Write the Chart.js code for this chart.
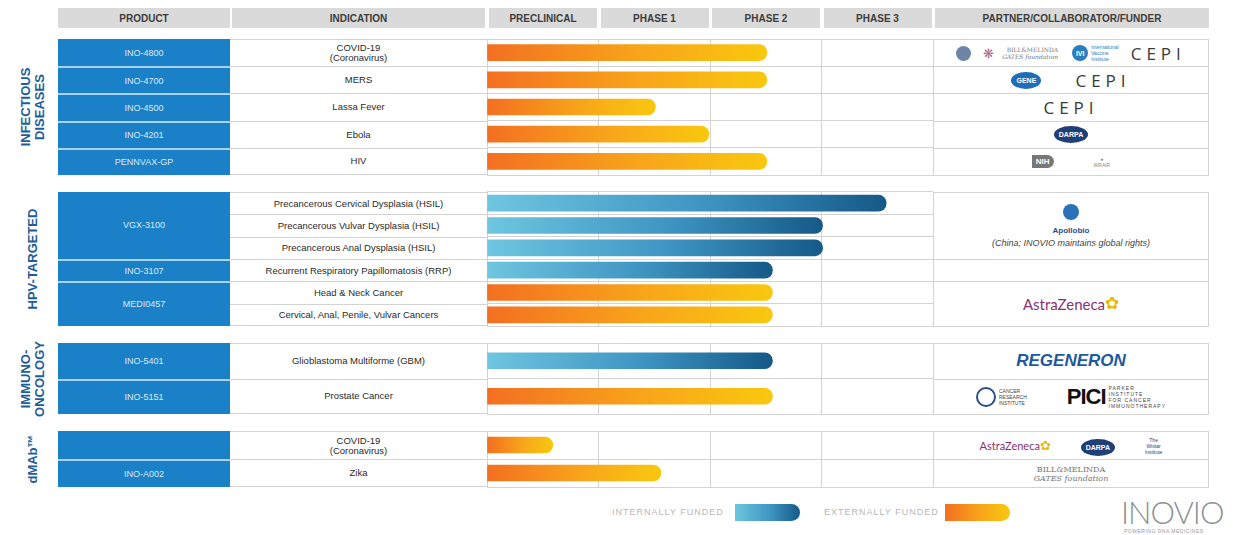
<!DOCTYPE html>
<html>
<head>
<meta charset="utf-8">
<script src="https://cdn.jsdelivr.net/npm/chart.js@4/dist/chart.umd.min.js"></script>
<style>
  body { margin: 0; background: #fff; font-family: "Liberation Sans", Arial, sans-serif; }
  #page { position: relative; width: 1233px; height: 535px; overflow: hidden; }
  .hd { position: absolute; top: 8px; height: 20px; background: #dadada; color: #3c3c3c;
        font-size: 10px; font-weight: bold; display: flex; align-items: center; justify-content: center; }
  .prod { position: absolute; left: 58px; width: 172px; background: #1a80c8; color: #dcebf7;
          font-size: 9px; display: flex; align-items: center; justify-content: center; box-sizing: border-box; }
  .prod.sep { border-top: 2px solid #a9d2ef; }
  .ind { position: absolute; left: 230px; width: 257px; color: #2a2a2a; font-size: 9.5px; line-height: 10px;
         display: flex; align-items: center; justify-content: center; text-align: center; box-sizing: border-box;
         border-top: 1px solid #d3d3d3; white-space: pre; }
  .ind.last { border-bottom: 1px solid #d3d3d3; }
  .part { position: absolute; left: 933px; width: 276px; box-sizing: border-box; border: 1px solid #d3d3d3;
          border-bottom: none; display: flex; align-items: center; justify-content: center; }
  .part.last { border-bottom: 1px solid #d3d3d3; }
  .sec { position: absolute; left: 33px; transform: translate(-50%, -50%) rotate(-90deg); color: #1c5e9a;
         font-size: 13px; font-weight: bold; line-height: 14px; white-space: pre; text-align: center; }
  canvas.bars { position: absolute; left: 480px; }
  .cepi { font-family: "Open Sans", sans-serif; font-size: 17px; letter-spacing: 5px; color: #3a3a3a; }
  .oval { display: inline-flex; align-items: center; justify-content: center; border-radius: 50%;
          color: #fff; font-weight: bold; font-size: 7px; }
  .tiny { font-size: 5px; color: #888; line-height: 6px; }
  .gates { font-family: "DejaVu Serif", serif; font-size: 6px; color: #777; line-height: 7px; text-align: right; }
  .az { font-family: "Lato", sans-serif; color: #8a2f78; }
  .azm { color: #e8b90c; }
  .lg { position: absolute; top: 507px; font-size: 9px; color: #b8b8b8; letter-spacing: 1px; }
  .lgbar { position: absolute; top: 504px; height: 17px; border-radius: 0 9px 9px 0; }
</style>
</head>
<body>
<div id="page"></div>
<script>
// ===== data =====
const phaseLabels = ['PRECLINICAL', 'PHASE 1', 'PHASE 2', 'PHASE 3'];

const infIndications = ['COVID-19\n(Coronavirus)', 'MERS', 'Lassa Fever', 'Ebola', 'HIV'];
const infProducts = ['INO-4800', 'INO-4700', 'INO-4500', 'INO-4201', 'PENNVAX-GP'];
const infProgress = [2.51, 2.51, 1.51, 1.99, 2.51];
const infFunding = ['ext', 'ext', 'ext', 'ext', 'ext'];
const infPartners = ['covid', 'mers', 'lassa', 'ebola', 'hiv'];

const hpvIndications = ['Precancerous Cervical Dysplasia (HSIL)', 'Precancerous Vulvar Dysplasia (HSIL)',
  'Precancerous Anal Dysplasia (HSIL)', 'Recurrent Respiratory Papillomatosis (RRP)',
  'Head & Neck Cancer', 'Cervical, Anal, Penile, Vulvar Cancers'];
const hpvProducts = ['VGX-3100', 'VGX-3100', 'VGX-3100', 'INO-3107', 'MEDI0457', 'MEDI0457'];
const hpvProgress = [3.58, 3.01, 3.01, 2.56, 2.56, 2.56];
const hpvFunding = ['int', 'int', 'int', 'int', 'ext', 'ext'];
const hpvPartners = ['apollo', 'apollo', 'apollo', 'none', 'az', 'az'];

const ioIndications = ['Glioblastoma Multiforme (GBM)', 'Prostate Cancer'];
const ioProducts = ['INO-5401', 'INO-5151'];
const ioProgress = [2.56, 2.56];
const ioFunding = ['int', 'ext'];
const ioPartners = ['regeneron', 'pici'];

const dmabIndications = ['COVID-19\n(Coronavirus)', 'Zika'];
const dmabProducts = ['', 'INO-A002'];
const dmabProgress = [0.59, 1.56];
const dmabFunding = ['ext', 'ext'];
const dmabPartners = ['dmabcovid', 'gates'];

// ===== partner logos (as text) =====
const gatesTxt = '<span class="gates">BILL&amp;MELINDA<br><i>GATES foundation</i></span>';
const azTxt = (s) => '<span class="az" style="font-size:' + s + 'px">AstraZeneca</span><span class="azm" style="font-size:' + (s + 2) + 'px">✿</span>';
const darpa = '<span class="oval" style="width:34px;height:17px;background:#1f3f78">DARPA</span>';
const logos = {
  covid: '<span class="oval" style="width:15px;height:15px;background:#6d86a5;margin-right:12px"></span>' +
         '<span style="color:#b0708a;font-size:13px;margin-right:8px">❋</span>' + gatesTxt +
         '<span class="oval" style="width:16px;height:16px;background:#2a7ec0;margin:0 3px 0 14px">IVI</span>' +
         '<span class="tiny" style="color:#2a7ec0;margin-right:12px">International<br>Vaccine<br>Institute</span>' +
         '<span class="cepi">CEPI</span>',
  mers: '<span class="oval" style="width:30px;height:17px;background:#1e6fb8;margin-right:34px">GENE</span><span class="cepi">CEPI</span>',
  lassa: '<span class="cepi">CEPI</span>',
  ebola: darpa,
  hiv: '<span style="background:#777;color:#fff;font-size:8px;font-weight:bold;padding:2px 4px;border-radius:0 7px 7px 0;margin-right:40px">NIH</span>' +
       '<span class="tiny" style="text-align:center">●<br>WRAIR</span>',
  apollo: '<div style="text-align:center;color:#444"><span class="oval" style="width:16px;height:16px;background:#2a73b8"></span>' +
          '<div style="font-size:8px;font-weight:bold;color:#1f4f8e;margin-top:2px">Apollobio</div>' +
          '<div style="font-size:9px;font-style:italic;margin-top:3px">(China; INOVIO maintains global rights)</div></div>',
  none: '',
  az: azTxt(15),
  regeneron: '<span style="font-size:17px;font-weight:bold;font-style:italic;color:#1f5a9e">REGENERON</span>',
  pici: '<span class="oval" style="width:16px;height:16px;background:#fff;border:2px solid #2a4f86;margin-right:3px"></span>' +
        '<span class="tiny" style="color:#444;margin-right:40px">CANCER<br>RESEARCH<br>INSTITUTE</span>' +
        '<span style="font-size:22px;font-weight:bold;color:#111;letter-spacing:-1px;margin-right:3px">PICI</span>' +
        '<span class="tiny" style="color:#444;letter-spacing:1px">PARKER<br>INSTITUTE<br>FOR CANCER<br>IMMUNOTHERAPY</span>',
  dmabcovid: azTxt(11) + '<span style="margin:0 30px">' + darpa + '</span><span class="tiny" style="color:#1f3f78;text-align:center">The<br>Wistar<br>Institute</span>',
  gates: '<span class="gates" style="font-size:8px;line-height:9px;text-align:center">BILL&amp;MELINDA<br><i>GATES foundation</i></span>'
};

// ===== layout =====
const sections = [
  { name: 'INFECTIOUS\nDISEASES', top: 39, rowH: 27.2, ind: infIndications, prod: infProducts, val: infProgress, fund: infFunding, part: infPartners },
  { name: 'HPV-TARGETED', top: 192, rowH: 22.3, ind: hpvIndications, prod: hpvProducts, val: hpvProgress, fund: hpvFunding, part: hpvPartners },
  { name: 'IMMUNO-\nONCOLOGY', top: 343, rowH: 35.5, ind: ioIndications, prod: ioProducts, val: ioProgress, fund: ioFunding, part: ioPartners },
  { name: 'dMAb™', top: 431, rowH: 28, ind: dmabIndications, prod: dmabProducts, val: dmabProgress, fund: dmabFunding, part: dmabPartners }
];

const page = document.getElementById('page');
function el(cls, style, html) {
  const d = document.createElement('div');
  d.className = cls;
  Object.assign(d.style, style);
  if (html !== undefined) d.innerHTML = html;
  page.appendChild(d);
  return d;
}

// header row
el('hd', { left: '58px', width: '172px' }, 'PRODUCT');
el('hd', { left: '232px', width: '253px' }, 'INDICATION');
phaseLabels.forEach((p, i) => el('hd', { left: (489 + i * 111.5) + 'px', width: '108px' }, p));
el('hd', { left: '935px', width: '274px' }, 'PARTNER/COLLABORATOR/FUNDER');

// merge consecutive equal entries into spans
function spans(arr) {
  const out = [];
  arr.forEach((v, i) => {
    if (i > 0 && arr[i - 1] === v && v !== '') out[out.length - 1].n++;
    else out.push({ v, start: i, n: 1 });
  });
  return out;
}

const COLORS = {
  int: ['#6ec6e0', '#3d94c2', '#155987'],
  ext: ['#f36f21', '#f8a51a', '#f9c80f']
};

function barFill(ctx, kind) {
  const c = ctx.chart, area = c.chartArea;
  const cols = COLORS[kind] || COLORS.ext;
  if (!area || ctx.raw === undefined) return cols[1];
  const xs = c.scales.x;
  const x0 = xs.getPixelForValue(0), x1 = xs.getPixelForValue(ctx.raw);
  const g = c.ctx.createLinearGradient(x0, 0, x1, 0);
  g.addColorStop(0, cols[0]);
  g.addColorStop(0.55, cols[1]);
  g.addColorStop(1, cols[2]);
  return g;
}

sections.forEach(s => {
  const n = s.ind.length, h = s.rowH * n;
  el('sec', { top: (s.top + h / 2) + 'px' }, s.name.replace('\n', '<br>'));

  spans(s.prod).forEach((p, k) => {
    el('prod' + (k > 0 ? ' sep' : ''), { top: (s.top + p.start * s.rowH) + 'px', height: (p.n * s.rowH) + 'px' }, p.v);
  });
  s.ind.forEach((t, i) => {
    el('ind' + (i === n - 1 ? ' last' : ''), { top: (s.top + i * s.rowH) + 'px', height: s.rowH + 'px' }).textContent = t;
  });
  const ps = spans(s.part);
  ps.forEach((p, k) => {
    el('part' + (k === ps.length - 1 ? ' last' : ''), { top: (s.top + p.start * s.rowH) + 'px', height: (p.n * s.rowH + (k === ps.length - 1 ? 1 : 0)) + 'px' }, logos[p.v]);
  });

  // bars
  const cv = document.createElement('canvas');
  cv.className = 'bars';
  cv.width = 460;
  cv.height = Math.round(h) + 6;
  cv.style.top = (s.top - 3) + 'px';
  page.appendChild(cv);
  new Chart(cv, {
    type: 'bar',
    data: {
      labels: s.ind,
      datasets: [{
        data: s.val,
        backgroundColor: ctx => barFill(ctx, s.fund[ctx.dataIndex]),
        barThickness: 16,
        borderRadius: 8,
        borderSkipped: 'start'
      }]
    },
    options: {
      indexAxis: 'y',
      responsive: false,
      animation: false,
      layout: { padding: { left: 7, right: 7, top: 3, bottom: 3 } },
      plugins: { legend: { display: false }, tooltip: { enabled: false } },
      scales: {
        x: { min: 0, max: 4, ticks: { display: false, stepSize: 1 }, grid: { color: '#d3d3d3', drawTicks: false }, border: { display: false } },
        y: { ticks: { display: false }, grid: { color: '#d3d3d3', drawTicks: false, offset: true }, border: { display: false } }
      }
    }
  });
});

// legend
el('lg', { left: '612px' }, 'INTERNALLY FUNDED');
el('lgbar', { left: '735px', width: '65px', background: 'linear-gradient(90deg,#6ec6e0,#3d94c2 55%,#155987)' });
el('lg', { left: '824px' }, 'EXTERNALLY FUNDED');
el('lgbar', { left: '945px', width: '65px', background: 'linear-gradient(90deg,#f36f21,#f8a51a 55%,#f9c80f)' });

// brand
el('', { position: 'absolute', left: '1121px', top: '497px', fontFamily: 'Lato, sans-serif', fontWeight: '300', fontSize: '31px', color: '#8d9296', letterSpacing: '-1px', lineHeight: '31px' }, 'INOVIO');
el('', { position: 'absolute', left: '1124px', top: '528px', fontSize: '5px', color: '#9a9a9a', letterSpacing: '0.5px' }, 'POWERING DNA MEDICINES');
</script>
</body>
</html>
